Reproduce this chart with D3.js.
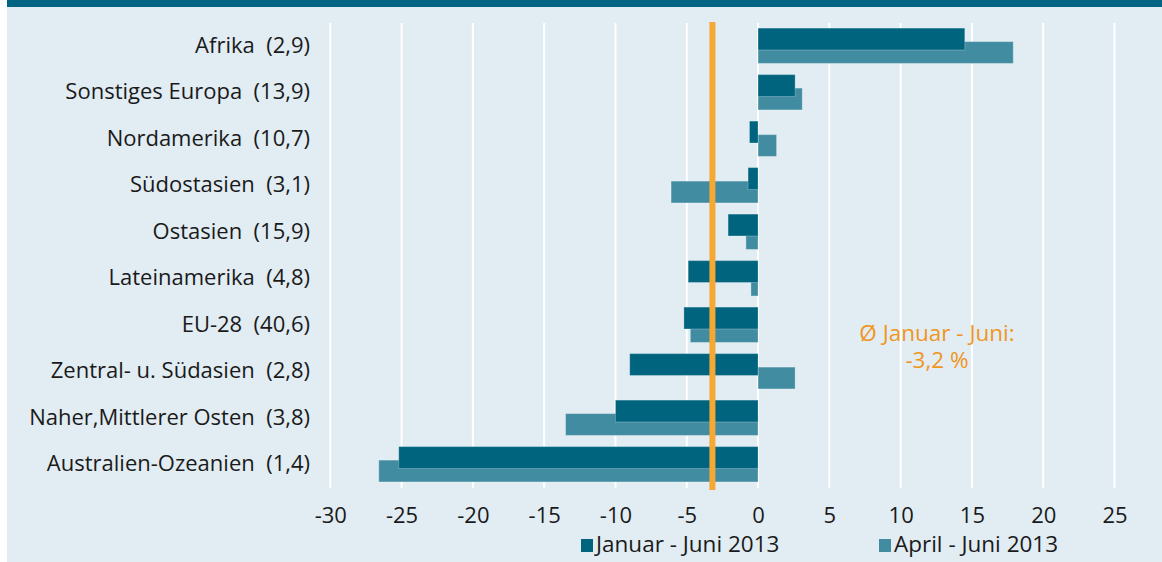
<!DOCTYPE html>
<html>
<head>
<meta charset="utf-8">
<script src="https://cdn.jsdelivr.net/npm/d3@7"></script>
<style>
  body { margin: 0; background: #fff; }
  svg { display: block; font-family: "Open Sans", sans-serif; }
</style>
</head>
<body>
<svg width="1162" height="562"></svg>
<script>
// regions with share in parentheses
var regions = ["Afrika", "Sonstiges Europa", "Nordamerika", "Südostasien", "Ostasien",
    "Lateinamerika", "EU-28", "Zentral- u. Südasien", "Naher,Mittlerer Osten", "Australien-Ozeanien"];
var shares = ["2,9", "13,9", "10,7", "3,1", "15,9", "4,8", "40,6", "2,8", "3,8", "1,4"];

var janJun = [14.5, 2.6, -0.6, -0.7, -2.1, -4.9, -5.2, -9.0, -10.0, -25.2];
var aprJun = [17.9, 3.1, 1.3, -6.1, -0.85, -0.5, -4.75, 2.6, -13.5, -26.6];

var xTicks = [-30, -25, -20, -15, -10, -5, 0, 5, 10, 15, 20, 25];
var average = -3.2;
var seriesNames = ["Januar - Juni 2013", "April - Juni 2013"];

var darkColor = "#00647f", lightColor = "#428ca1", orange = "#f5a834";

var svg = d3.select("svg");

// panel background and header strip
svg.append("rect").attr("x", 7).attr("y", 0).attr("width", 1155).attr("height", 562).attr("fill", "#e1ecf3");
svg.append("rect").attr("x", 7).attr("y", 0).attr("width", 1155).attr("height", 7).attr("fill", "#006482");

var x = d3.scaleLinear().domain([-30, 25]).range([330.3, 1114.5]);
var y = d3.scaleBand().domain(regions).range([23, 488]);
var bw = y.bandwidth();

// gridlines
svg.append("g").selectAll("line")
    .data(xTicks)
    .enter().append("line")
    .attr("x1", function(d) { return x(d); })
    .attr("x2", function(d) { return x(d); })
    .attr("y1", 23).attr("y2", 488)
    .attr("stroke", "#fff").attr("stroke-width", 2);

// April bars (behind), January bars on top
svg.append("g").selectAll("rect")
    .data(aprJun)
    .enter().append("rect")
    .attr("x", function(d) { return x(Math.min(0, d)); })
    .attr("y", function(d, i) { return y(regions[i]) + bw * 0.40; })
    .attr("width", function(d) { return Math.abs(x(d) - x(0)); })
    .attr("height", bw * 0.47)
    .attr("fill", lightColor)
    .attr("stroke", "rgba(255,255,255,0.3)");

svg.append("g").selectAll("rect")
    .data(janJun)
    .enter().append("rect")
    .attr("x", function(d) { return x(Math.min(0, d)); })
    .attr("y", function(d, i) { return y(regions[i]) + bw * 0.11; })
    .attr("width", function(d) { return Math.abs(x(d) - x(0)); })
    .attr("height", bw * 0.47)
    .attr("fill", darkColor)
    .attr("stroke", "rgba(255,255,255,0.25)");

// average line
svg.append("line")
    .attr("x1", x(average)).attr("x2", x(average))
    .attr("y1", 22).attr("y2", 490)
    .attr("stroke", orange).attr("stroke-width", 6);

// category labels
svg.append("g").selectAll("text")
    .data(regions)
    .enter().append("text")
    .attr("x", 310)
    .attr("y", function(d) { return y(d) + bw / 2; })
    .attr("dy", "0.3em")
    .attr("text-anchor", "end")
    .attr("font-size", 22)
    .attr("fill", "#1a1a1a")
    .style("white-space", "pre")
    .text(function(d, i) { return d + "  (" + shares[i] + ")"; });

// x axis
var xAxis = d3.axisBottom(x).tickValues(xTicks).tickSize(0).tickPadding(0)
    .tickFormat(function(d) { return String(d); });
var gx = svg.append("g").attr("transform", "translate(0,507)").call(xAxis);
gx.select(".domain").remove();
gx.selectAll("text").attr("font-size", 22).attr("fill", "#1a1a1a")
    .attr("font-family", "Open Sans, sans-serif");

// average annotation
var note = svg.append("text").attr("text-anchor", "middle").attr("fill", "#f0961e").attr("font-size", 22.5);
note.append("tspan").attr("x", 937).attr("y", 341).text("\u00D8 Januar - Juni:");
note.append("tspan").attr("x", 937).attr("y", 368).text(average.toFixed(1).replace(".", ",") + " %");

// legend
var legendX = [581, 879];
var lg = svg.append("g").selectAll("g")
    .data(seriesNames)
    .enter().append("g")
    .attr("transform", function(d, i) { return "translate(" + legendX[i] + ",539)"; });
lg.append("rect").attr("width", 12).attr("height", 13)
    .attr("fill", function(d, i) { return i === 0 ? darkColor : lightColor; });
lg.append("text").attr("x", 15).attr("y", 13).attr("font-size", 22.5).attr("fill", "#1a1a1a")
    .text(function(d) { return d; });
</script>
</body>
</html>
